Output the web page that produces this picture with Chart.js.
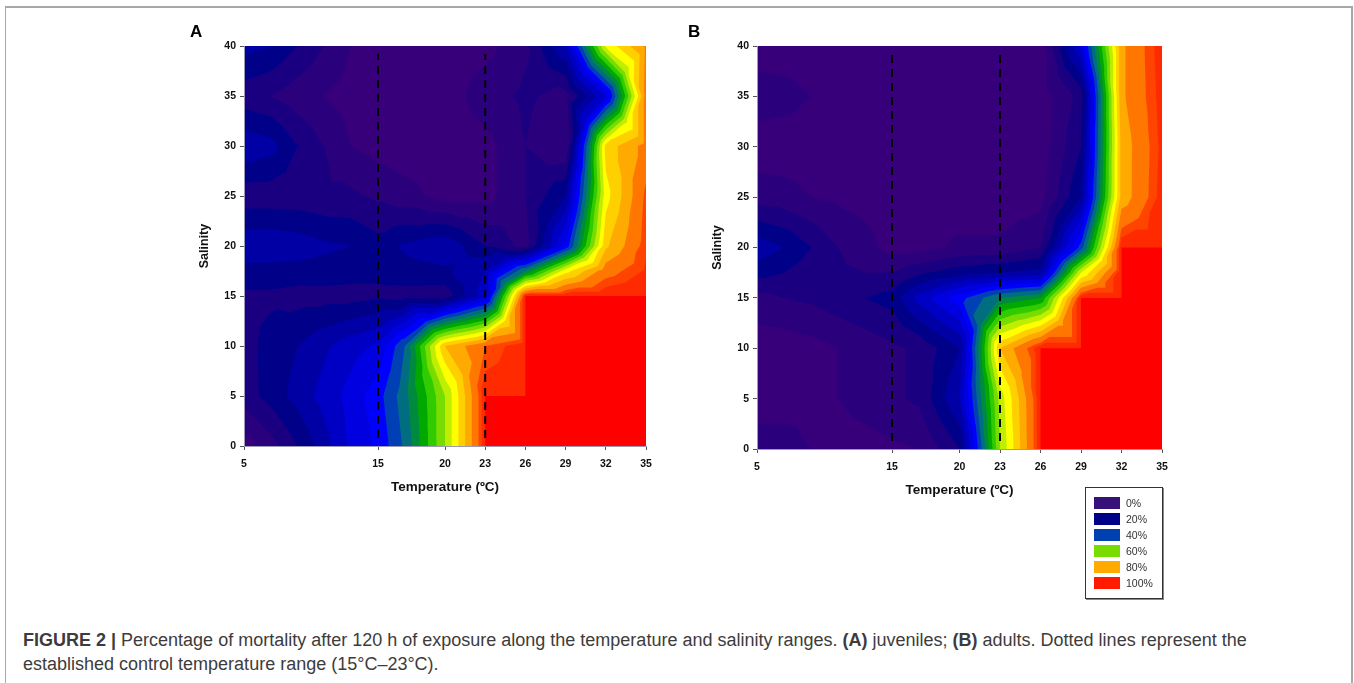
<!DOCTYPE html>
<html>
<head>
<meta charset="utf-8">
<title>Figure 2</title>
<script src="https://cdn.jsdelivr.net/npm/chart.js@4/dist/chart.umd.min.js"></script>
<style>
    html, body { margin: 0; padding: 0; background: #fff; }
    #page { position: relative; width: 1354px; height: 683px; overflow: hidden; font-family: "Liberation Sans", Arial, sans-serif; }
    #frame { position: absolute; left: 5px; top: 6px; width: 1345px; height: 700px; border: 2px solid #a8a8a8; border-left-width: 1px; }
    canvas { position: absolute; }
    .panel-letter { position: absolute; top: 22px; font-size: 17px; font-weight: bold; color: #000; }
    #legend { position: absolute; left: 1085px; top: 487px; width: 76px; height: 110px; border: 1px solid #333; box-shadow: 1px 1px 0 #888; background: #fff; }
    .legend-row { position: absolute; left: 8px; height: 13px; font-size: 10.5px; line-height: 13px; color: #333; white-space: nowrap; }
    .legend-row i { display: inline-block; width: 26px; height: 12px; margin-right: 6px; vertical-align: top; }
    .caption { position: absolute; left: 23px; font-size: 18px; color: #3c3c3c; white-space: nowrap; }
</style>
</head>
<body>
<div id="page">
    <div id="frame"></div>
    <canvas id="chartA" width="490" height="490" style="left:180px;top:20px"></canvas>
    <canvas id="chartB" width="490" height="490" style="left:690px;top:20px"></canvas>
    <div class="panel-letter" style="left:190px">A</div>
    <div class="panel-letter" style="left:688px">B</div>
    <div id="legend"></div>
    <div class="caption" style="top:630px"><b>FIGURE 2 |</b> Percentage of mortality after 120 h of exposure along the temperature and salinity ranges. <b>(A)</b> juveniles; <b>(B)</b> adults. Dotted lines represent the</div>
    <div class="caption" style="top:654px">established control temperature range (15°C–23°C).</div>
</div>
<script>
// grid of the surface, values are % mortality
const temperatures = [5, 7, 9, 11, 13, 15, 17, 20, 23, 26, 29, 32, 35];
const salinities = [0, 5, 10, 15, 17.5, 20, 25, 30, 35, 40];
const xTickValues = [5, 15, 20, 23, 26, 29, 32, 35];

const juvenileS0 = [2, 8, 15, 23, 31, 36, 46, 70, 100, 100, 100, 100, 100];
const juvenileS5 = [12.5, 17, 22, 27, 32, 38, 48, 70, 100, 100, 100, 100, 100];
const juvenileS10 = [13, 17, 20, 24, 28, 31, 45, 85, 95, 100, 100, 100, 100];
const juvenileS15 = [14, 14, 13, 13, 13, 14, 13, 12, 28, 100, 100, 100, 100];
const juvenileS17 = [18, 18, 18, 18, 17, 16, 18, 19, 25, 50, 78, 93, 98];
const juvenileS20 = [24, 24, 23, 21, 20, 17, 21, 24, 15, 8, 36, 84, 97];
const juvenileS25 = [12, 12, 12, 11, 11, 9, 7, 3, 3, 10, 20, 78, 96];
const juvenileS30 = [24, 22, 15, 10, 5, 3, 2, 2, 3, 10, 5, 82, 92];
const juvenileS35 = [12, 10, 7, 5, 3, 2, 2, 2, 8, 11, 8, 30, 92];
const juvenileS40 = [22, 20, 15, 10, 5, 3, 2, 2, 3, 9, 25, 76, 91];

const adultS0 = [7, 7, 5, 3, 3, 4, 5, 15, 70, 100, 100, 100, 100];
const adultS5 = [3, 3, 4, 5, 7, 9, 11, 25, 72, 100, 100, 100, 100];
const adultS10 = [2, 2, 3, 5, 7, 9, 11, 20, 85, 100, 100, 100, 100];
const adultS15 = [8, 10, 11, 13, 15, 17, 27, 38, 50, 55, 100, 100, 100];
const adultS17 = [17, 15, 12, 11, 10, 10, 14, 18, 20, 22, 75, 100, 100];
const adultS20 = [23, 20, 15, 10, 7, 3, 3, 6, 6, 10, 42, 100, 100];
const adultS25 = [8, 7, 5, 4, 3, 2, 2, 2, 2, 3, 20, 87, 99];
const adultS30 = [2, 2, 2, 2, 2, 2, 2, 2, 2, 2, 15, 87, 98.5];
const adultS35 = [8, 7, 5, 3, 2, 2, 2, 2, 2, 2, 12, 89, 99];
const adultS40 = [2, 2, 2, 2, 2, 2, 2, 2, 2, 2, 30, 89, 99.5];

const juvenileRows = [juvenileS0, juvenileS5, juvenileS10, juvenileS15, juvenileS17, juvenileS20, juvenileS25, juvenileS30, juvenileS35, juvenileS40];
const adultRows = [adultS0, adultS5, adultS10, adultS15, adultS17, adultS20, adultS25, adultS30, adultS35, adultS40];

const bandLevels = [0, 5, 10, 15, 20, 25, 30, 35, 40, 45, 50, 55, 60, 65, 70, 75, 80, 85, 90, 95, 97.5, 100];
const bandColors = ['#37007a', '#2a007c', '#1a0080', '#000088', '#0000a4', '#0000c4', '#0000e0', '#0000ff', '#0040b4', '#006e80', '#008a40',
    '#00a800', '#30cc00', '#78dc00', '#c0ee00', '#ffff00', '#ffd000', '#ffaa00', '#ff7700', '#ff4400', '#ff2a00', '#ff0000'];

const legendLabels = ['0%', '20%', '40%', '60%', '80%', '100%'];
const legendColors = ['#37107a', '#000088', '#0040b0', '#78dc00', '#ffaa00', '#ff1a00'];

// control range, drawn dashed
const controlLow = [15, 15];
const controlHigh = [23, 23];
const controlSalinity = [0.8, 39.2];

// part of a triangle where value >= level
function clipTriangle(tri, level) {
    const out = [];
    for (let i = 0; i < 3; i++) {
        const a = tri[i];
        const b = tri[(i + 1) % 3];
        if (a.z >= level) out.push(a);
        if ((a.z >= level) !== (b.z >= level)) {
            const t = (level - a.z) / (b.z - a.z);
            out.push({ x: a.x + (b.x - a.x) * t, y: a.y + (b.y - a.y) * t, z: level });
        }
    }
    return out;
}

const contourPlugin = {
    id: 'contourBands',
    beforeDraw(chart, args, options) {
        const { ctx, chartArea, scales } = chart;
        const rows = options.rows;
        ctx.save();
        ctx.beginPath();
        ctx.rect(chartArea.left, chartArea.top, chartArea.width, chartArea.height);
        ctx.clip();
        ctx.fillStyle = bandColors[0];
        ctx.fillRect(chartArea.left, chartArea.top, chartArea.width, chartArea.height);

        const pt = (i, j) => ({
            x: scales.x.getPixelForValue(temperatures[i]),
            y: scales.y.getPixelForValue(salinities[j]),
            z: rows[j][i]
        });

        for (let b = 1; b < bandLevels.length; b++) {
            ctx.beginPath();
            for (let j = 0; j < salinities.length - 1; j++) {
                for (let i = 0; i < temperatures.length - 1; i++) {
                    const corners = [pt(i, j), pt(i + 1, j), pt(i + 1, j + 1), pt(i, j + 1)];
                    const mid = {
                        x: (corners[0].x + corners[2].x) / 2,
                        y: (corners[0].y + corners[2].y) / 2,
                        z: (corners[0].z + corners[1].z + corners[2].z + corners[3].z) / 4
                    };
                    for (let k = 0; k < 4; k++) {
                        const poly = clipTriangle([corners[k], corners[(k + 1) % 4], mid], bandLevels[b]);
                        if (poly.length < 3) continue;
                        ctx.moveTo(poly[0].x, poly[0].y);
                        poly.slice(1).forEach(p => ctx.lineTo(p.x, p.y));
                        ctx.closePath();
                    }
                }
            }
            ctx.fillStyle = bandColors[b];
            ctx.fill();
        }
        ctx.restore();
    }
};

const tickFont = { family: '"Liberation Sans", Arial, sans-serif', size: 10.5, weight: 'bold' };
const xTitleFont = { family: '"Liberation Sans", Arial, sans-serif', size: 13.5, weight: 'bold' };
const yTitleFont = { family: '"Liberation Sans", Arial, sans-serif', size: 12.5, weight: 'bold' };

const dashSet = (temps) => ({
    data: temps.map((t, i) => ({ x: t, y: controlSalinity[i] })),
    showLine: true,
    borderColor: '#000',
    borderWidth: 2,
    borderDash: [8, 6],
    pointRadius: 0
});

function makePanel(id, rows, cfg) {
    return new Chart(document.getElementById(id), {
        type: 'scatter',
        data: { datasets: [dashSet(controlLow), dashSet(controlHigh)] },
        plugins: [contourPlugin],
        options: {
            responsive: false,
            animation: false,
            layout: { padding: { top: 26, right: cfg.right } },
            plugins: {
                legend: { display: false },
                tooltip: { enabled: false },
                contourBands: { rows: rows }
            },
            scales: {
                x: {
                    type: 'linear',
                    min: 5,
                    max: 35,
                    afterBuildTicks: (scale) => { scale.ticks = xTickValues.map(v => ({ value: v })); },
                    afterFit: (scale) => { scale.height = cfg.bottom; },
                    grid: { drawOnChartArea: false, color: '#555', tickLength: 4 },
                    border: { color: '#9a9ab8' },
                    ticks: { color: '#111', font: tickFont, padding: 8, autoSkip: false, maxRotation: 0 },
                    title: { display: true, text: 'Temperature (ºC)', color: '#111', font: xTitleFont, padding: { top: 0, bottom: cfg.titleBottom } }
                },
                y: {
                    min: 0,
                    max: 40,
                    afterFit: (scale) => { scale.width = cfg.left; },
                    grid: { drawOnChartArea: false, color: '#555', tickLength: 4 },
                    border: { color: '#9a9ab8' },
                    ticks: { stepSize: 5, color: '#111', font: tickFont, padding: 4 },
                    title: { display: true, text: 'Salinity', color: '#111', font: yTitleFont, padding: { top: cfg.titleLeft, bottom: 0 } }
                }
            }
        }
    });
}

makePanel('chartA', juvenileRows, { left: 64, right: 24, bottom: 64, titleBottom: 15, titleLeft: 17 });
makePanel('chartB', adultRows, { left: 67, right: 18, bottom: 61, titleBottom: 12, titleLeft: 20 });

// legend box
const legendBox = document.getElementById('legend');
legendLabels.forEach((label, i) => {
    const row = document.createElement('div');
    row.className = 'legend-row';
    row.style.top = (9 + i * 16) + 'px';
    const swatch = document.createElement('i');
    swatch.style.background = legendColors[i];
    row.appendChild(swatch);
    row.appendChild(document.createTextNode(label));
    legendBox.appendChild(row);
});
</script>
</body>
</html>
